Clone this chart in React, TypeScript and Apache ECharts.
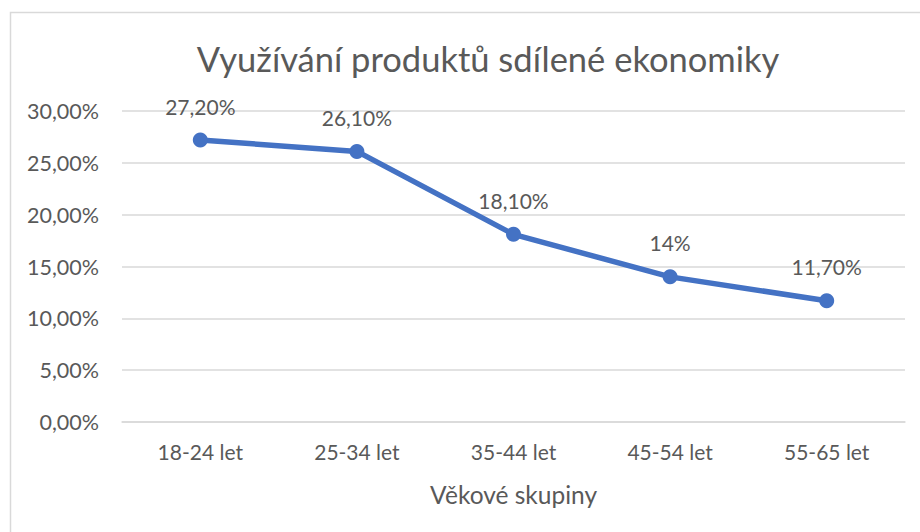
import React, { useEffect, useRef } from "react";
import * as echarts from "echarts";

const categories = ["18-24 let", "25-34 let", "35-44 let", "45-54 let", "55-65 let"];
const values = [27.2, 26.1, 18.1, 14, 11.7];
const dataLabels = ["27,20%", "26,10%", "18,10%", "14%", "11,70%"];
const titleText = "Využívání produktů sdílené ekonomiky";
const xAxisTitle = "Věkové skupiny";

const FONT = "Lato, 'Open Sans', sans-serif";
const TEXT = "#595959";

export default function App() {
  const ref = useRef<HTMLDivElement>(null);
  useEffect(() => {
    if (!ref.current) return;
    const chart = echarts.init(ref.current, undefined, { renderer: "svg" });
    chart.setOption({
      animation: false,
      backgroundColor: "#ffffff",
      textStyle: { fontFamily: FONT },
      title: {
        text: titleText,
        left: 483,
        textAlign: "center",
        top: 36,
        textStyle: { fontFamily: FONT, fontSize: 34.5, fontWeight: "normal", color: TEXT },
      },
      graphic: [
        {
          type: "rect",
          shape: { x: 10.5, y: 12.5, width: 1000, height: 1000 },
          style: { fill: "none", stroke: "#d9d9d9", lineWidth: 1.5 },
          silent: true,
        },
      ],
      grid: { left: 122, right: 15, top: 111, bottom: 110 },
      xAxis: {
        type: "category",
        data: categories,
        boundaryGap: true,
        name: xAxisTitle,
        nameLocation: "middle",
        nameGap: 60,
        nameTextStyle: { fontFamily: FONT, fontSize: 24.5, color: TEXT },
        axisLine: { show: true, lineStyle: { color: "#d9d9d9", width: 1.5 } },
        axisTick: { show: false },
        axisLabel: { fontFamily: FONT, fontSize: 21, color: TEXT, margin: 19 },
      },
      yAxis: {
        type: "value",
        min: 0,
        max: 30,
        interval: 5,
        axisLine: { show: false },
        axisTick: { show: false },
        splitLine: { lineStyle: { color: "#d9d9d9", width: 1.5 } },
        axisLabel: {
          fontFamily: FONT,
          fontSize: 21.5,
          color: TEXT,
          margin: 23,
          formatter: (v: number) => v.toFixed(2).replace(".", ",") + "%",
        },
      },
      series: [
        {
          type: "line",
          data: values,
          symbol: "circle",
          symbolSize: 15,
          lineStyle: { color: "#4472C4", width: 5.5 },
          itemStyle: { color: "#4472C4" },
          label: {
            show: true,
            position: "top",
            distance: 16,
            fontFamily: FONT,
            fontSize: 21,
            color: TEXT,
            formatter: (p: any) => dataLabels[p.dataIndex],
          },
        },
      ],
    });
    return () => chart.dispose();
  }, []);
  return (
    <div
      ref={ref}
      style={{ position: "fixed", left: 0, top: 0, width: 920, height: 532 }}
    />
  );
}
